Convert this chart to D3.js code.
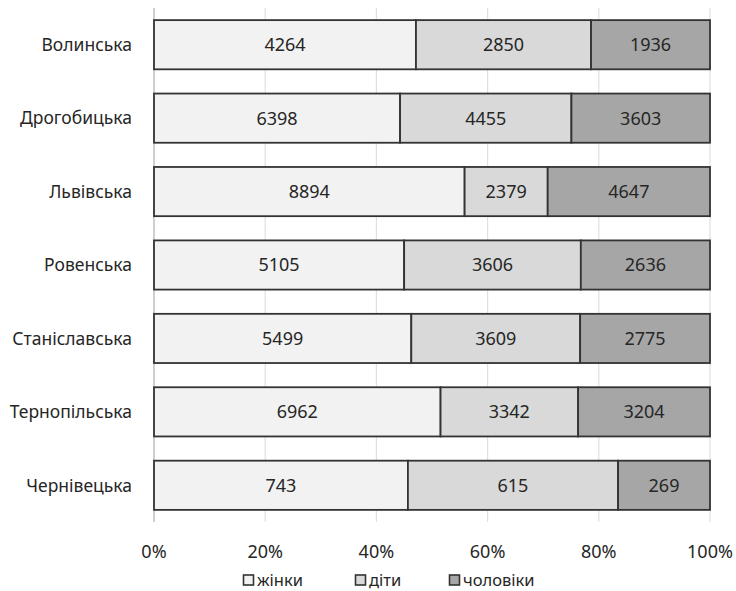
<!DOCTYPE html>
<html>
<head>
<meta charset="utf-8">
<script src="https://cdn.jsdelivr.net/npm/d3@7"></script>
<style>
  body { margin: 0; background: #fff; }
  svg { display: block; font-family: "Noto Sans", sans-serif; }
</style>
</head>
<body>
<script>
// data
const regions = ["Волинська", "Дрогобицька", "Львівська", "Ровенська", "Станіславська", "Тернопільська", "Чернівецька"];
const women = [4264, 6398, 8894, 5105, 5499, 6962, 743];
const children = [2850, 4455, 2379, 3606, 3609, 3342, 615];
const men = [1936, 3603, 4647, 2636, 2775, 3204, 269];
const seriesNames = ["жінки", "діти", "чоловіки"];
const ticks = [0, 0.2, 0.4, 0.6, 0.8, 1];

const width = 736, height = 591;
const colors = ["#f2f2f2", "#d9d9d9", "#a6a6a6"];

const svg = d3.select("body").append("svg")
    .attr("width", width)
    .attr("height", height);

const x = d3.scaleLinear().domain([0, 1]).range([154, 710]);
const y = d3.scaleBand().domain(regions).range([8, 522]).paddingInner(0.33).paddingOuter(0.165);

// rows with shares
const rows = regions.map((r, i) => {
    const vals = [women[i], children[i], men[i]];
    const total = d3.sum(vals);
    let acc = 0;
    return vals.map((v, k) => {
        const s = { region: r, value: v, k: k, x0: acc / total };
        acc += v;
        s.x1 = acc / total;
        return s;
    });
});

// gridlines
svg.append("g")
    .selectAll("line")
    .data(ticks)
    .join("line")
    .attr("x1", d => x(d))
    .attr("x2", d => x(d))
    .attr("y1", 8)
    .attr("y2", 522)
    .attr("stroke", d => d === 0 ? "#b0b0b0" : "#e0e0e0")
    .attr("stroke-width", 1.2);

// bars
const seg = svg.append("g")
    .selectAll("g")
    .data(rows)
    .join("g")
    .selectAll("g")
    .data(d => d)
    .join("g");

seg.append("rect")
    .attr("x", d => x(d.x0))
    .attr("y", d => y(d.region))
    .attr("width", d => x(d.x1) - x(d.x0))
    .attr("height", y.bandwidth())
    .attr("fill", d => colors[d.k])
    .attr("stroke", "#333")
    .attr("stroke-width", 1.8);

seg.append("text")
    .text(d => d.value)
    .attr("x", d => (x(d.x0) + x(d.x1)) / 2)
    .attr("y", d => y(d.region) + y.bandwidth() / 2)
    .attr("dy", "0.36em")
    .attr("text-anchor", "middle")
    .attr("font-size", 18)
    .attr("fill", "#262626");

// category labels
svg.append("g")
    .selectAll("text")
    .data(regions)
    .join("text")
    .text(d => d)
    .attr("x", 132)
    .attr("y", d => y(d) + y.bandwidth() / 2)
    .attr("dy", "0.36em")
    .attr("text-anchor", "end")
    .attr("font-size", 17.5)
    .attr("fill", "#262626");

// tick labels
svg.append("g")
    .selectAll("text")
    .data(ticks)
    .join("text")
    .text(d => d3.format(".0%")(d))
    .attr("x", d => x(d))
    .attr("y", 552)
    .attr("dy", "0.36em")
    .attr("text-anchor", "middle")
    .attr("font-size", 18)
    .attr("fill", "#262626");

// legend
const legendX = [243, 355, 449];
const lg = svg.append("g")
    .selectAll("g")
    .data(seriesNames)
    .join("g")
    .attr("transform", (d, i) => `translate(${legendX[i]},580)`);

lg.append("rect")
    .attr("x", 0.5)
    .attr("y", -5)
    .attr("width", 10)
    .attr("height", 10)
    .attr("fill", (d, i) => colors[i])
    .attr("stroke", "#333")
    .attr("stroke-width", 1.6);

lg.append("text")
    .text(d => d)
    .attr("x", 14)
    .attr("y", 5.5)
    .attr("font-size", 16.5)
    .attr("fill", "#262626");
</script>
</body>
</html>
